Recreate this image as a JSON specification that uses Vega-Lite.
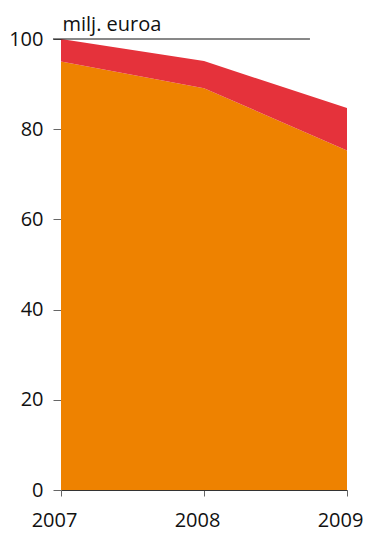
{
  "$schema": "https://vega.github.io/schema/vega-lite/v6.json",
  "width": 286,
  "height": 451,
  "autosize": "none",
  "padding": {"left": 61, "top": 39, "right": 21, "bottom": 46},
  "background": "white",
  "config": {
    "view": {"stroke": null},
    "font": "Open Sans"
  },
  "datasets": {
    "series": [
      {"year": 2007, "group": "a", "value": 95.0},
      {"year": 2008, "group": "a", "value": 89.1},
      {"year": 2009, "group": "a", "value": 75.3},
      {"year": 2007, "group": "b", "value": 5.0},
      {"year": 2008, "group": "b", "value": 6.0},
      {"year": 2009, "group": "b", "value": 9.4}
    ],
    "topline": [
      {"x1": 2006.944, "x2": 2008.741, "y": 100}
    ]
  },
  "resolve": {"scale": {"x": "independent", "y": "independent"}, "axis": {"x": "independent", "y": "independent"}},
  "layer": [
    {
      "data": {"name": "series"},
      "mark": {"type": "area", "interpolate": "linear"},
      "encoding": {
        "x": {
          "field": "year",
          "type": "ordinal",
          "scale": {"type": "point", "padding": 0},
          "axis": {
            "title": null,
            "labelAngle": 0,
            "grid": false,
            "domain": true,
            "domainColor": "#333333",
            "tickColor": "#666666",
            "tickSize": 6,
            "labelFontSize": 20,
            "labelColor": "#111111",
            "labelPadding": 14,
            "labelOffset": -7,
            "labelFlush": false,
            "labelOverlap": false,
            "labelBound": false
          }
        },
        "y": {
          "field": "value",
          "type": "quantitative",
          "stack": "zero",
          "scale": {"domain": [0, 100], "nice": false},
          "axis": {
            "values": [0, 20, 40, 60, 80, 100],
            "title": "milj. euroa",
            "grid": false,
            "domain": false,
            "tickColor": "#666666",
            "tickSize": 8,
            "labelFontSize": 20,
            "labelColor": "#111111",
            "labelPadding": 10,
            "titleAngle": 0,
            "titleX": 1,
            "titleY": -9,
            "titleAlign": "left",
            "titleBaseline": "alphabetic",
            "titleFontSize": 20,
            "titleFontWeight": "normal",
            "titleColor": "#111111"
          }
        },
        "color": {
          "field": "group",
          "type": "nominal",
          "scale": {"domain": ["a", "b"], "range": ["#EE8200", "#E5323B"]},
          "legend": null
        },
        "order": {"field": "group", "sort": "ascending"}
      }
    },
    {
      "data": {"name": "topline"},
      "mark": {"type": "rule", "color": "#111111", "strokeWidth": 1, "clip": false},
      "encoding": {
        "x": {"field": "x1", "type": "quantitative", "scale": {"domain": [2007, 2009], "nice": false, "zero": false}, "axis": null},
        "x2": {"field": "x2"},
        "y": {"field": "y", "type": "quantitative", "scale": {"domain": [0, 100], "nice": false}, "axis": null}
      }
    }
  ]
}
